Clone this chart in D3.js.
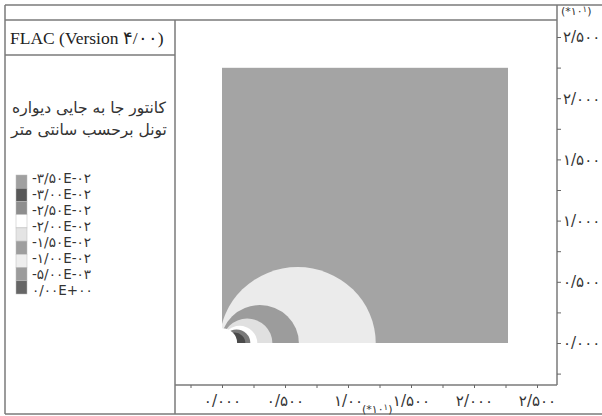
<!DOCTYPE html>
<html>
<head>
<meta charset="utf-8">
<script src="https://cdn.jsdelivr.net/npm/d3@7"></script>
<style>
  body { margin: 0; background: #fff; }
  svg { display: block; }
  .fa { font-family: "DejaVu Sans", sans-serif; }
  .serif { font-family: "Liberation Serif", "DejaVu Serif", serif; }
</style>
</head>
<body>
<svg id="canvas" width="602" height="416"></svg>
<script>
// legend values and colours (top to bottom)
let legendLabels = ['-۳/۵۰E-۰۲', '-۳/۰۰E-۰۲', '-۲/۵۰E-۰۲', '-۲/۰۰E-۰۲', '-۱/۵۰E-۰۲', '-۱/۰۰E-۰۲', '-۵/۰۰E-۰۳', '۰/۰۰E+۰۰'];
let legendColors = ['#a0a0a0', '#585858', '#8e8e8e', '#ffffff', '#e4e4e4', '#9e9e9e', '#eeeeee', '#9c9c9c', '#666666'];

// axis ticks (x10^1)
let xTickValues = [-0.25, 0, 0.25, 0.5, 0.75, 1, 1.25, 1.5, 1.75, 2, 2.25, 2.5];
let xTickLabels = ['۰/۰۰۰', '۰/۵۰۰', '۱/۰۰', '۱/۵۰۰', '۲/۰۰۰', '۲/۵۰۰'];
let yTickValues = [-0.25, 0, 0.25, 0.5, 0.75, 1, 1.25, 1.5, 1.75, 2, 2.25, 2.5];
let yTickLabels = ['۰/۰۰۰', '۰/۵۰۰', '۱/۰۰۰', '۱/۵۰۰', '۲/۰۰۰', '۲/۵۰۰'];

// model extent (x10^1 m)
let modelWidth = 2.27;
let modelHeight = 2.25;
let modelColor = '#a4a4a4';

// displacement contours: circles centred on the floor line, drawn largest first
let contourCx = [0.60, 0.30, 0.20, 0.14, 0.115, 0.10];
let contourR = [0.62, 0.31, 0.20, 0.14, 0.11, 0.085];
let contourColors = ['#ebebeb', '#9c9c9c', '#e0e0e0', '#ffffff', '#7a7a7a', '#4a4a4a'];
let tunnelR = 0.12;

let svg = d3.select('#canvas');

let x = d3.scaleLinear().domain([0, 2.5]).range([222, 537]);
let y = d3.scaleLinear().domain([0, 2.5]).range([343, 37]);

// plot clip
svg.append('clipPath').attr('id', 'model')
  .append('rect')
  .attr('x', x(0)).attr('y', y(modelHeight))
  .attr('width', x(modelWidth) - x(0))
  .attr('height', y(0) - y(modelHeight));

let plot = svg.append('g').attr('clip-path', 'url(#model)');

plot.append('rect')
  .attr('x', x(0)).attr('y', y(modelHeight))
  .attr('width', x(modelWidth) - x(0))
  .attr('height', y(0) - y(modelHeight))
  .attr('fill', modelColor);

plot.selectAll('ellipse.contour')
  .data(contourCx)
  .enter()
  .append('ellipse')
  .attr('class', 'contour')
  .attr('cx', (d) => x(d))
  .attr('cy', y(0))
  .attr('rx', (d, i) => x(contourR[i]) - x(0))
  .attr('ry', (d, i) => y(0) - y(contourR[i]))
  .attr('fill', (d, i) => contourColors[i]);

plot.append('ellipse')
  .attr('cx', x(0)).attr('cy', y(0))
  .attr('rx', x(tunnelR) - x(0))
  .attr('ry', y(0) - y(tunnelR))
  .attr('fill', '#fff');

// frame lines
let lineColor = '#7a7a7a';
let frame = [
  [5, 5, 602, 5], [5, 20, 557, 20], [5, 5, 5, 414], [5, 414, 602, 414],
  [175, 20, 175, 414], [557, 5, 557, 385], [5, 55, 175, 55], [175, 385, 557, 385]
];
svg.selectAll('line.frame')
  .data(frame)
  .enter()
  .append('line')
  .attr('class', 'frame')
  .attr('x1', (d) => d[0]).attr('y1', (d) => d[1])
  .attr('x2', (d) => d[2]).attr('y2', (d) => d[3])
  .attr('stroke', lineColor)
  .attr('stroke-width', 1.5);

// axes
let xAxis = d3.axisBottom(x)
  .tickValues(xTickValues)
  .tickSize(3)
  .tickPadding(7)
  .tickFormat((d) => {
    let k = Math.round(d * 2);
    return (d >= 0 && Math.abs(d * 2 - k) < 1e-6) ? xTickLabels[k] : '';
  });
let gx = svg.append('g').attr('transform', 'translate(0,385)').call(xAxis);

let yAxis = d3.axisRight(y)
  .tickValues(yTickValues)
  .tickSize(4)
  .tickPadding(2)
  .tickFormat((d) => {
    let k = Math.round(d * 2);
    return (d >= 0 && Math.abs(d * 2 - k) < 1e-6) ? yTickLabels[k] : '';
  });
let gy = svg.append('g').attr('transform', 'translate(557,0)').call(yAxis);

[gx, gy].forEach((g) => {
  g.attr('font-family', '"DejaVu Sans", sans-serif').attr('font-size', 15);
  g.select('.domain').remove();
  g.selectAll('.tick line').attr('stroke', '#666');
  g.selectAll('.tick text')
    .style('font-size', '15px')
    .attr('fill', '#333');
});

// multiplier labels
let addMultiplier = (px, py) => {
  let t = svg.append('text').attr('class', 'fa')
    .attr('x', px).attr('y', py)
    .style('font-size', '11px').attr('fill', '#333');
  t.append('tspan').text('(*۱۰');
  t.append('tspan').attr('dy', -3).style('font-size', '8.5px').text('۱');
  t.append('tspan').attr('dy', 3).text(')');
};
addMultiplier(561, 15);
addMultiplier(362, 413);

// title box
svg.append('text')
  .attr('class', 'serif')
  .attr('x', 10).attr('y', 44)
  .attr('font-size', 17.5).attr('fill', '#222')
  .text('FLAC (Version ۴/۰۰)');

// legend title
let titleLines = ['کانتور جا به جایی دیواره', 'تونل برحسب سانتی متر'];
svg.selectAll('text.ltitle')
  .data(titleLines)
  .enter()
  .append('text')
  .attr('class', 'ltitle fa')
  .attr('x', 89)
  .attr('y', (d, i) => 113 + i * 22)
  .attr('text-anchor', 'middle')
  .attr('direction', 'rtl')
  .attr('font-size', 15.5)
  .attr('fill', '#333')
  .text((d) => d);

// legend swatches and labels
let swatchY = d3.scaleLinear().domain([0, legendColors.length]).range([175, 294]);
svg.selectAll('rect.swatch')
  .data(legendColors)
  .enter()
  .append('rect')
  .attr('class', 'swatch')
  .attr('x', 16)
  .attr('y', (d, i) => swatchY(i))
  .attr('width', 11)
  .attr('height', (d, i) => swatchY(i + 1) - swatchY(i))
  .attr('fill', (d) => d)
  .attr('stroke', '#bbb')
  .attr('stroke-width', 0.5);

let labelY = d3.scaleLinear().domain([0, legendLabels.length - 1]).range([178, 290]);
svg.selectAll('text.llabel')
  .data(legendLabels)
  .enter()
  .append('text')
  .attr('class', 'llabel fa')
  .attr('x', 32)
  .attr('y', (d, i) => labelY(i) + 4.5)
  .attr('direction', 'ltr')
  .attr('font-size', 13.5)
  .attr('fill', '#333')
  .text((d) => d);
</script>
</body>
</html>
